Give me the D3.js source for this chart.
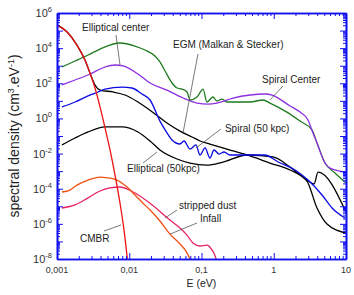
<!DOCTYPE html>
<html>
<head>
<meta charset="utf-8">
<script src="https://cdn.jsdelivr.net/npm/d3@7"></script>
<style>
    body { margin: 0; background: #fff; }
    svg { display: block; font-family: "Liberation Sans", Arial, sans-serif; }
</style>
</head>
<body>
<svg id="grafico"></svg>
<script>
// Datos: energia (eV) y densidad espectral (cm-3 eV-1)
var eCmbr = [0.001, 0.00138, 0.00189, 0.00244, 0.00286, 0.00336, 0.00394, 0.00462, 0.00542, 0.00635, 0.00745, 0.00846, 0.00961];
var nCmbr = [2.1e5, 8.3e4, 1.5e4, 2.1e3, 385, 54, 4.5, 0.29, 0.016, 6.0e-4, 1.5e-5, 4.5e-7, 4.5e-9];

var eEgm = [0.001, 0.00138, 0.00189, 0.00244, 0.00286, 0.00336, 0.00394, 0.00596, 0.00873, 0.0132, 0.0227, 0.0333, 0.0504, 0.0739, 0.0953, 0.131, 0.225, 0.426, 0.887, 1.68, 2.88, 3.97, 5.46, 10];
var nEgm = [2.1e5, 8.3e4, 1.5e4, 2.1e3, 385, 80, 41, 32, 21.5, 8.6, 1.8, 0.55, 0.19, 0.088, 0.052, 0.035, 0.018, 0.0083, 0.0029, 0.00116, 2.7e-4, 8.0e-6, 9.8e-7, 3.0e-7];

var eElip50 = [0.00117, 0.00178, 0.00269, 0.00462, 0.00794, 0.0132, 0.0194, 0.0266, 0.0458, 0.0693, 0.119, 0.198, 0.426, 0.977, 1.68, 2.88, 3.61, 4.10, 10];
var nElip50 = [0.031, 0.077, 0.17, 0.33, 0.33, 0.17, 0.052, 0.016, 0.0049, 0.0029, 0.0022, 0.0033, 0.0083, 0.0064, 0.0017, 3.1e-4, 1.85e-4, 8.9e-4, 4.7e-6];

var eEspiral50 = [0.00117, 0.00178, 0.00269, 0.00369, 0.00462, 0.00794, 0.0109, 0.015, 0.0194, 0.0266, 0.0333, 0.0391, 0.0504, 0.0573, 0.0693, 0.0839, 0.0953, 0.112, 0.131, 0.149, 0.175, 0.205, 0.248, 0.4, 0.757, 1.15, 1.97, 2.98, 4.66, 6.4, 9.69];
var nEspiral50 = [4.5, 8.6, 19, 32, 47, 61, 54, 24.5, 11.2, 0.7, 0.15, 0.059, 0.035, 0.052, 0.018, 0.031, 0.0083, 0.021, 0.0056, 0.016, 0.0094, 0.0123, 0.0083, 0.0083, 0.0083, 0.0033, 0.00116, 3.1e-4, 4.4e-5, 8.0e-6, 2.15e-6];

var eEspiralCentro = [0.00117, 0.00178, 0.00269, 0.00394, 0.00745, 0.012, 0.0165, 0.0227, 0.0266, 0.0313, 0.0391, 0.0458, 0.0537, 0.063, 0.0693, 0.0867, 0.105, 0.119, 0.144, 0.164, 0.192, 0.225, 0.469, 0.71, 0.887, 1.52, 2.31, 3.38, 3.97, 5.12, 7.04, 10];
var nEspiralCentro = [845, 1850, 4070, 8900, 1.96e4, 1.32e4, 7800, 3570, 1630, 500, 104, 54, 47, 32, 11.2, 16.6, 47, 8.6, 16.6, 9.8, 12.7, 8.6, 8.6, 11.2, 7.5, 2.3, 0.71, 0.22, 0.040, 0.0029, 7.8e-4, 2.1e-4];

var eElipCentro = [0.00117, 0.00178, 0.00269, 0.00462, 0.00635, 0.00819, 0.0132, 0.0194, 0.0333, 0.0555, 0.0867, 0.123, 0.164, 0.273, 0.469, 0.757, 0.946, 1.68, 2.31, 2.98, 3.49, 3.97, 5.12, 6.01, 10];
var nElipCentro = [80, 154, 296, 845, 1100, 964, 337, 104, 41, 14.5, 7.5, 6.6, 7.5, 14.5, 21.5, 24.5, 21.5, 5.1, 2.3, 0.81, 0.148, 0.040, 0.0029, 0.0015, 8.9e-4];

var eInfall = [0.00117, 0.00151, 0.00189, 0.00269, 0.00394, 0.00508, 0.00677, 0.00931, 0.012, 0.0155, 0.0194, 0.0266, 0.0366, 0.0504, 0.061, 0.0693, 0.0739];
var nInfall = [6.5e-5, 8.4e-5, 1.6e-4, 3.1e-4, 4.6e-4, 4.1e-4, 3.1e-4, 1.25e-4, 4.4e-5, 1.5e-5, 6.1e-6, 1.45e-6, 2.6e-7, 7.1e-8, 2.8e-8, 1e-8, 5e-9];

var ePolvo = [0.00117, 0.00178, 0.00269, 0.00394, 0.00542, 0.00745, 0.0113, 0.0194, 0.0366, 0.0504, 0.063, 0.0763, 0.0953, 0.119, 0.14, 0.159, 0.164];
var nPolvo = [8.0e-6, 1.2e-5, 3.0e-5, 7.4e-5, 1.1e-4, 1.25e-4, 6.5e-5, 1.5e-5, 1.65e-6, 5.8e-7, 2.3e-7, 8.1e-8, 5.5e-8, 6.2e-8, 3.2e-8, 1e-8, 5e-9];

// Etiquetas de los ejes
var xTicks = [0.001, 0.01, 0.1, 1, 10];
var xEtiquetas = ["0,001", "0,01", "0,1", "1", "10"];
var yExponentes = [6, 4, 2, 0, -2, -4, -6, -8];

var anchura = 354,
    altura = 295,
    margen = { izq: 57, der: 8, sup: 13, inf: 36 };

var azul = "#1010f0";

var x = d3.scaleLog().domain([0.001, 10]).range([margen.izq, anchura - margen.der]);
var y = d3.scaleLog().domain([1e-8, 1e6]).range([altura - margen.inf, margen.sup]);

var svg = d3.select("#grafico")
    .attr("width", anchura)
    .attr("height", altura);

svg.append("defs").append("clipPath").attr("id", "recorte")
    .append("rect")
    .attr("x", x.range()[0]).attr("y", y.range()[1])
    .attr("width", x.range()[1] - x.range()[0])
    .attr("height", y.range()[0] - y.range()[1]);

//Curvas
var series = [
    { e: ePolvo, n: nPolvo, color: "#e8235f" },
    { e: eInfall, n: nInfall, color: "#f05010" },
    { e: eElip50, n: nElip50, color: "#000" },
    { e: eEgm, n: nEgm, color: "#000" },
    { e: eEspiral50, n: nEspiral50, color: "#0a0ae6" },
    { e: eEspiralCentro, n: nEspiralCentro, color: "#1f7a1f" },
    { e: eElipCentro, n: nElipCentro, color: "#8d2ee0" },
    { e: eCmbr, n: nCmbr, color: "#ee1111" }
];

var linea = d3.line()
    .x(function (d) { return x(d[0]); })
    .y(function (d) { return y(d[1]); })
    .curve(d3.curveMonotoneX);

svg.append("g")
    .attr("clip-path", "url(#recorte)")
    .selectAll("path")
    .data(series)
    .join("path")
    .attr("d", function (s) { return linea(d3.zip(s.e, s.n)); })
    .attr("fill", "none")
    .attr("stroke", function (s) { return s.color; })
    .attr("stroke-width", 1.3)
    .attr("stroke-linejoin", "round");

//Marcas de los ejes (hacia dentro en los cuatro lados)
function menores(desde, hasta) {
    var v = [];
    for (var d = desde; d < hasta; d++)
        for (var k = 2; k <= 9; k++) v.push(k * Math.pow(10, d));
    return v;
}
var xMayores = d3.range(-3, 2).map(function (d) { return Math.pow(10, d); });
var xMenores = menores(-3, 1);
var yMayores = d3.range(-8, 7).map(function (d) { return Math.pow(10, d); });
var yMenores = menores(-8, 6);

var ejes = [
    { gen: function () { return d3.axisLeft(y); }, tr: "translate(" + x.range()[0] + ",0)", may: yMayores, men: yMenores },
    { gen: function () { return d3.axisRight(y); }, tr: "translate(" + x.range()[1] + ",0)", may: yMayores, men: yMenores },
    { gen: function () { return d3.axisBottom(x); }, tr: "translate(0," + y.range()[0] + ")", may: xMayores, men: xMenores },
    { gen: function () { return d3.axisTop(x); }, tr: "translate(0," + y.range()[1] + ")", may: xMayores, men: xMenores }
];

ejes.forEach(function (e) {
    var g = svg.append("g").attr("transform", e.tr);
    g.append("g").call(e.gen().tickValues(e.men).tickSizeInner(-3).tickSizeOuter(0).tickFormat(""));
    g.append("g").call(e.gen().tickValues(e.may).tickSizeInner(-6).tickSizeOuter(0).tickFormat(""));
    g.selectAll(".domain").attr("stroke", azul).attr("stroke-width", 1.6);
    g.selectAll(".tick line").attr("stroke", azul).attr("stroke-width", 1);
});

//Etiquetas del eje x
svg.append("g").selectAll("text")
    .data(xTicks)
    .join("text")
    .attr("x", function (d) { return x(d); })
    .attr("y", y.range()[0] + 14)
    .attr("text-anchor", "middle")
    .style("font-size", "9px")
    .style("fill", "#333")
    .text(function (d, i) { return xEtiquetas[i]; });

//Etiquetas del eje y con potencias de 10
svg.append("g").selectAll("text")
    .data(yExponentes)
    .join("text")
    .attr("x", x.range()[0] - 5)
    .attr("y", function (d) { return y(Math.pow(10, d)) + 4; })
    .attr("text-anchor", "end")
    .style("font-size", "11px")
    .style("fill", "#333")
    .each(function (d) {
        var t = d3.select(this);
        t.append("tspan").text("10");
        t.append("tspan").attr("dy", -5).style("font-size", "7.5px").text(d);
    });

//Titulos de los ejes
svg.append("text")
    .attr("x", (x.range()[0] + x.range()[1]) / 2)
    .attr("y", altura - 8)
    .attr("text-anchor", "middle")
    .style("font-size", "10.5px")
    .style("fill", "#222")
    .text("E (eV)");

var tituloY = svg.append("text")
    .attr("transform", "translate(19," + (y.range()[0] + y.range()[1]) / 2 + ") rotate(-90)")
    .attr("text-anchor", "middle")
    .style("font-size", "14px")
    .style("fill", "#222");
tituloY.append("tspan").text("spectral density (cm");
tituloY.append("tspan").attr("dy", -5).style("font-size", "9px").text("3");
tituloY.append("tspan").attr("dy", 5).text(".eV");
tituloY.append("tspan").attr("dy", -5).style("font-size", "9px").text("-1");
tituloY.append("tspan").attr("dy", 5).text(")");

//Anotaciones con su linea indicadora
var notas = [
    { texto: "Elliptical center", t: [0.00222, 9.5e4], p: [[0.00655, 5.6e4], [0.00745, 1100]] },
    { texto: "EGM (Malkan & Stecker)", t: [0.0403, 1.02e4], p: [[0.0894, 4600], [0.0555, 0.148]] },
    { texto: "Spiral Center", t: [0.687, 104], p: [[1.34, 70], [0.887, 11.2]] },
    { texto: "Spiral (50 kpc)", t: [0.211, 0.169], p: [[0.186, 0.25], [0.0839, 0.021]] },
    { texto: "Elliptical (50kpc)", t: [0.00931, 8.9e-4], p: [[0.0155, 0.0029], [0.0242, 0.0123]] },
    { texto: "stripped dust", t: [0.0488, 7.0e-6], p: [[0.0458, 6.1e-6], [0.0313, 2.15e-6]] },
    { texto: "Infall", t: [0.0953, 1.27e-6], p: [[0.0867, 1.12e-6], [0.0366, 2.6e-7]] },
    { texto: "CMBR", t: [0.00208, 9.2e-8], p: [[0.00447, 3.9e-7], [0.00769, 8.6e-7]] }
];

var g = svg.append("g").selectAll("g").data(notas).join("g");
g.append("line")
    .attr("x1", function (d) { return x(d.p[0][0]); })
    .attr("y1", function (d) { return y(d.p[0][1]); })
    .attr("x2", function (d) { return x(d.p[1][0]); })
    .attr("y2", function (d) { return y(d.p[1][1]); })
    .attr("stroke", "#555")
    .attr("stroke-width", 0.8);
g.append("text")
    .attr("x", function (d) { return x(d.t[0]); })
    .attr("y", function (d) { return y(d.t[1]); })
    .style("font-size", "10px")
    .style("fill", "#222")
    .text(function (d) { return d.texto; });
</script>
</body>
</html>
